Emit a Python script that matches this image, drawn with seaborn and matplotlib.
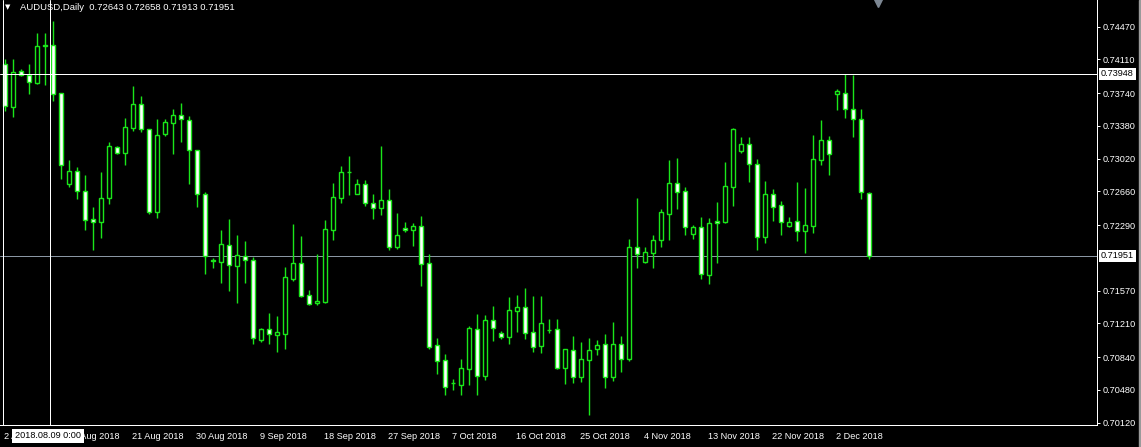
import matplotlib
matplotlib.use('Agg')
import matplotlib.pyplot as plt
from matplotlib.patches import Rectangle
from matplotlib.collections import LineCollection
import seaborn as sns
import numpy as np

# AUDUSD daily bars, 2 Aug 2018 .. 6 Dec 2018 (MT4, Sunday bars included)
symbol_title = 'AUDUSD,Daily'
opens = [0.74057, 0.73591, 0.73980, 0.73936, 0.73851, 0.74255, 0.74265, 0.73739, 0.72745, 0.72881,
         0.72662, 0.72354, 0.72328, 0.72591, 0.73151, 0.73085, 0.73362, 0.73618, 0.73341, 0.72437,
         0.73291, 0.73415, 0.73500, 0.73442, 0.73112, 0.72629, 0.71904, 0.71889, 0.72069, 0.71844,
         0.71954, 0.71904, 0.71031, 0.71145, 0.71086, 0.71097, 0.71698, 0.71871, 0.71520, 0.71431,
         0.71446, 0.72240, 0.72591, 0.72870, 0.72635, 0.72737, 0.72530, 0.72481, 0.72563, 0.72053,
         0.72255, 0.72233, 0.72277, 0.71871, 0.70970, 0.70809, 0.70556, 0.70537, 0.70713, 0.71145,
         0.70636, 0.71244, 0.71105, 0.71064, 0.71350, 0.71387, 0.71112, 0.70966, 0.71135, 0.71145,
         0.70724, 0.70915, 0.70625, 0.70812, 0.70933, 0.70981, 0.70625, 0.70981, 0.70823, 0.72047,
         0.71889, 0.71987, 0.72124, 0.72415, 0.72749, 0.72662, 0.72196, 0.72266, 0.71745, 0.72332,
         0.72328, 0.72712, 0.73108, 0.73178, 0.72958, 0.72163, 0.72629, 0.72508, 0.72280, 0.72332,
         0.72229, 0.72284, 0.73009, 0.73222, 0.73734, 0.73745, 0.73562, 0.73453, 0.72643]
highs = [0.74115, 0.74115, 0.74005, 0.74060, 0.74400, 0.74400, 0.74532, 0.73745, 0.73005, 0.72925,
         0.72837, 0.72489, 0.72873, 0.73203, 0.73155, 0.73467, 0.73819, 0.73709, 0.73345, 0.73456,
         0.73456, 0.73566, 0.73632, 0.73489, 0.73115, 0.72651, 0.71932, 0.72236, 0.72357, 0.72182,
         0.72113, 0.71937, 0.71163, 0.71325, 0.71289, 0.71830, 0.72302, 0.72171, 0.71578, 0.71973,
         0.72346, 0.72753, 0.72939, 0.73049, 0.72797, 0.72786, 0.72632, 0.73159, 0.72687, 0.72423,
         0.72324, 0.72313, 0.72390, 0.71973, 0.71050, 0.70871, 0.70603, 0.70820, 0.71182, 0.71314,
         0.71303, 0.71402, 0.71127, 0.71501, 0.71523, 0.71600, 0.71515, 0.71515, 0.71259, 0.71259,
         0.70930, 0.71072, 0.71006, 0.71050, 0.71028, 0.71094, 0.71226, 0.71072, 0.72138, 0.72585,
         0.72047, 0.72182, 0.72464, 0.73005, 0.73024, 0.72706, 0.72288, 0.72379, 0.72368, 0.72544,
         0.72980, 0.73357, 0.73258, 0.73258, 0.73016, 0.72775, 0.72687, 0.72555, 0.72379, 0.72764,
         0.72698, 0.73280, 0.73445, 0.73269, 0.73786, 0.73948, 0.73940, 0.73562, 0.72658]
lows = [0.73548, 0.73482, 0.73928, 0.73734, 0.73840, 0.73832, 0.73657, 0.72800, 0.72712, 0.72574,
        0.72240, 0.72017, 0.72152, 0.72522, 0.73074, 0.72954, 0.73328, 0.73317, 0.72409, 0.72372,
        0.73269, 0.73074, 0.73206, 0.72745, 0.72492, 0.71757, 0.71822, 0.71658, 0.71570, 0.71438,
        0.71658, 0.70987, 0.71009, 0.70987, 0.70896, 0.70932, 0.71676, 0.71504, 0.71416, 0.71413,
        0.71435, 0.72127, 0.72533, 0.72621, 0.72632, 0.72503, 0.72361, 0.72401, 0.72017, 0.72028,
        0.72218, 0.72061, 0.71625, 0.70929, 0.70658, 0.70424, 0.70482, 0.70421, 0.70537, 0.70424,
        0.70592, 0.71020, 0.71042, 0.70987, 0.71116, 0.71042, 0.70900, 0.70885, 0.71105, 0.70710,
        0.70545, 0.70559, 0.70563, 0.70204, 0.70867, 0.70504, 0.70581, 0.70680, 0.70801, 0.71822,
        0.71871, 0.71822, 0.72053, 0.72130, 0.72467, 0.72185, 0.72141, 0.71701, 0.71647, 0.71877,
        0.72317, 0.72503, 0.73085, 0.72767, 0.72017, 0.72097, 0.72335, 0.72182, 0.72266, 0.72116,
        0.71987, 0.72207, 0.72950, 0.72844, 0.73558, 0.73463, 0.73258, 0.72580, 0.71913]
closes = [0.73599, 0.73969, 0.73936, 0.73864, 0.74254, 0.74265, 0.73728, 0.72954, 0.72884, 0.72662,
          0.72350, 0.72328, 0.72588, 0.73156, 0.73085, 0.73365, 0.73618, 0.73341, 0.72437, 0.73277,
          0.73423, 0.73497, 0.73453, 0.73112, 0.72629, 0.71948, 0.71896, 0.72080, 0.71849, 0.71959,
          0.71904, 0.71053, 0.71149, 0.71090, 0.71112, 0.71717, 0.71871, 0.71515, 0.71427, 0.71457,
          0.72244, 0.72596, 0.72870, 0.72877, 0.72737, 0.72530, 0.72481, 0.72563, 0.72053, 0.72178,
          0.72233, 0.72277, 0.71866, 0.70955, 0.70801, 0.70515, 0.70553, 0.70717, 0.71157, 0.70636,
          0.71244, 0.71163, 0.71064, 0.71354, 0.71387, 0.71108, 0.70955, 0.71211, 0.71141, 0.70724,
          0.70926, 0.70625, 0.70816, 0.70915, 0.70970, 0.70625, 0.70981, 0.70823, 0.72047, 0.71976,
          0.71991, 0.72124, 0.72434, 0.72749, 0.72657, 0.72266, 0.72266, 0.71750, 0.72310, 0.72310,
          0.72717, 0.73343, 0.73178, 0.72958, 0.72163, 0.72629, 0.72492, 0.72328, 0.72321, 0.72229,
          0.72288, 0.73013, 0.73222, 0.73068, 0.73760, 0.73562, 0.73453, 0.72651, 0.71951]

date_labels = ['2 Aug 2018', '12 Aug 2018', '21 Aug 2018', '30 Aug 2018', '9 Sep 2018',
               '18 Sep 2018', '27 Sep 2018', '7 Oct 2018', '16 Oct 2018', '25 Oct 2018',
               '4 Nov 2018', '13 Nov 2018', '22 Nov 2018', '2 Dec 2018']
price_ticks = [0.74470, 0.74110, 0.73740, 0.73380, 0.73020, 0.72660, 0.72290,
               0.71570, 0.71210, 0.70840, 0.70480, 0.70120]
crosshair_price = 0.73948
crosshair_date = '2018.08.09 0:00'

sns.set_theme(style='dark', rc={'axes.facecolor': 'black', 'figure.facecolor': 'black',
                                'axes.grid': False})
plt.rcParams['font.family'] = ['Liberation Sans', 'DejaVu Sans']

W, H = 1141, 447
fig = plt.figure(figsize=(W / 100, H / 100), dpi=100)
ax = fig.add_axes([0, 22 / H, 1096.7 / W, 425 / H])
ax.set_facecolor('black')

green = (0.1, 0.9, 0.1)
px = 0.72    # one pixel in points
clw = 1.0    # candle line width

x = np.arange(len(opens))

# wicks
wicks = LineCollection([[(i, lo), (i, hi)] for i, lo, hi in zip(x, lows, highs)],
                       colors=[green], linewidths=clw, zorder=2)
ax.add_collection(wicks)

# bodies: bull = black fill, bear = white fill, green outline
for i, op, cl in zip(x, opens, closes):
    fill = (0, 0, 0) if cl >= op else (1, 1, 1)
    ax.add_patch(Rectangle((i - 0.25, min(op, cl)), 0.5, max(abs(cl - op), 0.00004),
                           facecolor=fill, edgecolor=green, linewidth=clw, zorder=3))

# bid line + crosshair
ax.axhline(closes[-1], color='#8a96a3', lw=px, zorder=1)
ax.axhline(crosshair_price, color='white', lw=px, zorder=4)
ax.axvline(5.73, color='white', lw=px, zorder=4)
ax.axvline(-0.19, color='white', lw=px, zorder=4)

ax.set_xlim(-0.5625, 136.525)
ax.set_ylim(0.70094, 0.74763)

ax.set_xticks(range(0, len(date_labels) * 8, 8))
ax.set_xticklabels(date_labels)
for t in ax.get_xticklabels():
    t.set_ha('left')
ax.yaxis.tick_right()
ax.set_yticks(price_ticks)
ax.set_yticklabels([f'{p:.5f}' for p in price_ticks])
ax.tick_params(axis='both', colors='white', labelcolor='white', labelsize=6.6,
               length=2.2, width=px, direction='out', pad=2.2)
ax.tick_params(axis='x', pad=3)

for s in ['left', 'top']:
    ax.spines[s].set_visible(False)
for s in ['right', 'bottom']:
    ax.spines[s].set_color('white')
    ax.spines[s].set_linewidth(px)

# chart shift marker
ax.plot([878 / 1096.7], [1 - 3 / 425], marker='v', ms=6, color='#7d8793',
        transform=ax.transAxes, clip_on=False, zorder=5)

# header
fig.text(8 / W, 1 - 7 / H, '▼', color='white', fontsize=5, ha='center', va='center',
         family=['DejaVu Sans'])
fig.text(20 / W, 1 - 7 / H,
         f'{symbol_title}  {opens[-1]:.5f} {highs[-1]:.5f} {lows[-1]:.5f} {closes[-1]:.5f}',
         color='white', fontsize=6.8, ha='left', va='center')

# highlighted labels
box = dict(boxstyle='square,pad=0.2', fc='white', ec='none')
fig.text(1101 / W, 1 - 74 / H, f'{crosshair_price:.5f}', color='black', fontsize=6.6,
         ha='left', va='center', bbox=box)
fig.text(1101 / W, 1 - 256 / H, f'{closes[-1]:.5f}', color='black', fontsize=6.6,
         ha='left', va='center', bbox=box)
fig.text(15 / W, 1 - 436 / H, crosshair_date, color='black', fontsize=6.6,
         ha='left', va='center', bbox=dict(boxstyle='square,pad=0.3', fc='white', ec='none'))

fig.patches.append(Rectangle((1139 / W, 0), 2 / W, 1, transform=fig.transFigure,
                             color='#9a9a9a', zorder=0))

fig.savefig('out.png', dpi=100, facecolor='black')
